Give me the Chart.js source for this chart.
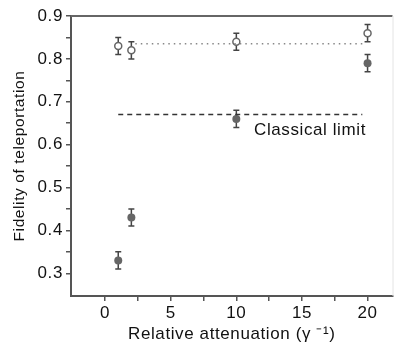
<!DOCTYPE html>
<html>
<head>
<meta charset="utf-8">
<script src="https://cdn.jsdelivr.net/npm/chart.js@4.4.1/dist/chart.umd.min.js"></script>
<style>
  html, body { margin: 0; padding: 0; background: #fff; }
  #wrap { width: 398px; height: 345px; position: relative; }
</style>
</head>
<body>
<div id="wrap"><canvas id="fidelityChart"></canvas></div>
<script>
// attenuation values (gamma^-1)
const attenuation = [1, 2, 10, 20];
// open circles (upper set) and filled circles (lower set)
const fidelityOpen = [0.83, 0.82, 0.84, 0.86];
const errorOpen = [0.02, 0.02, 0.02, 0.02];
const fidelityFilled = [0.33, 0.43, 0.66, 0.79];
const errorFilled = [0.02, 0.02, 0.02, 0.02];

// reference lines
const dottedLineX = [2.3, 19.6];
const dottedLineY = 0.835;
const classicalX = [1.0, 19.6];
const classicalLimit = 0.67;

const xTicks = [0, 2.5, 5, 7.5, 10, 12.5, 15, 17.5, 20];
const yTicks = [0.3, 0.35, 0.4, 0.45, 0.5, 0.55, 0.6, 0.65, 0.7, 0.75, 0.8, 0.85, 0.9];

const axisColor = "#555";
const family = "'Liberation Sans', Arial, sans-serif";
const tickFont = { family: family, size: 17 };

function toPoints(xs, ys) {
  return xs.map((x, i) => ({ x: x, y: ys[i] }));
}

// draws error bars under the markers, and the frame lines
const errorBars = {
  id: "errorBars",
  beforeLayout(chart) {
    chart.ctx.letterSpacing = "0.6px";
  },
  beforeDraw(chart) {
    chart.ctx.letterSpacing = "0.6px";
  },
  beforeDatasetsDraw(chart) {
    const ctx = chart.ctx;
    const xs = chart.scales.x;
    const ys = chart.scales.y;
    ctx.save();
    chart.data.datasets.forEach((ds) => {
      if (!ds.errors) return;
      ctx.strokeStyle = "#444";
      ctx.lineWidth = 1.5;
      ds.data.forEach((p, i) => {
        const px = xs.getPixelForValue(p.x);
        const top = ys.getPixelForValue(p.y + ds.errors[i]);
        const bot = ys.getPixelForValue(p.y - ds.errors[i]);
        ctx.beginPath();
        ctx.moveTo(px, top);
        ctx.lineTo(px, bot);
        ctx.moveTo(px - 3, top);
        ctx.lineTo(px + 3, top);
        ctx.moveTo(px - 3, bot);
        ctx.lineTo(px + 3, bot);
        ctx.stroke();
      });
    });
    ctx.restore();
  },
  afterDraw(chart) {
    const ctx = chart.ctx;
    const a = chart.chartArea;
    ctx.save();
    // top frame line
    ctx.strokeStyle = "#666";
    ctx.lineWidth = 2;
    ctx.beginPath();
    ctx.moveTo(a.left, a.top);
    ctx.lineTo(a.right, a.top);
    ctx.stroke();
    // faint right edge
    ctx.strokeStyle = "#e4e4e4";
    ctx.lineWidth = 1;
    ctx.beginPath();
    ctx.moveTo(a.right + 0.5, a.top);
    ctx.lineTo(a.right + 0.5, a.bottom);
    ctx.stroke();
    // label for the dashed line
    ctx.fillStyle = "#111";
    ctx.font = "17px " + family;
    ctx.textBaseline = "middle";
    ctx.fillText("Classical limit", 254, 130);
    ctx.restore();
  },
};

const majorTick = (v, step) => Math.abs(v / step - Math.round(v / step)) < 1e-6;

new Chart(document.getElementById("fidelityChart"), {
  type: "scatter",
  data: {
    datasets: [
      {
        label: "dotted",
        type: "line",
        data: toPoints(dottedLineX, [dottedLineY, dottedLineY]),
        borderColor: "#888",
        borderWidth: 1.5,
        borderDash: [1.5, 4],
        pointRadius: 0,
        fill: false,
      },
      {
        label: "classical",
        type: "line",
        data: toPoints(classicalX, [classicalLimit, classicalLimit]),
        borderColor: "#333",
        borderWidth: 1.5,
        borderDash: [5, 4],
        pointRadius: 0,
        fill: false,
      },
      {
        label: "open",
        data: toPoints(attenuation, fidelityOpen),
        errors: errorOpen,
        pointRadius: 3.5,
        pointBackgroundColor: "#fff",
        pointBorderColor: "#666",
        pointBorderWidth: 1.5,
      },
      {
        label: "filled",
        data: toPoints(attenuation, fidelityFilled),
        errors: errorFilled,
        pointRadius: 4,
        pointBackgroundColor: "#666",
        pointBorderColor: "#666",
        pointBorderWidth: 0,
      },
    ],
  },
  options: {
    responsive: true,
    maintainAspectRatio: false,
    animation: false,
    layout: { padding: { top: 16, right: 5, left: 0, bottom: 0 } },
    plugins: { legend: { display: false }, tooltip: { enabled: false } },
    scales: {
      x: {
        type: "linear",
        min: -2.6,
        max: 21.9,
        afterBuildTicks: (s) => { s.ticks = xTicks.map((v) => ({ value: v })); },
        afterFit: (s) => { s.height = 49; },
        border: { color: axisColor, width: 2 },
        grid: {
          drawOnChartArea: false,
          color: axisColor,
          lineWidth: 1.5,
          tickLength: 5,
        },
        ticks: {
          autoSkip: false,
          maxRotation: 0,
          color: "#111",
          font: tickFont,
          padding: 2,
          callback: (v) => (majorTick(v, 5) ? String(v) : ""),
        },
        title: {
          display: true,
          text: "Relative attenuation (γ ⁻¹)",
          color: "#111",
          font: { family: family, size: 17 },
          padding: { top: 0, bottom: 0 },
        },
      },
      y: {
        min: 0.247,
        max: 0.9,
        afterBuildTicks: (s) => { s.ticks = yTicks.map((v) => ({ value: v })); },
        afterFit: (s) => { s.width = 71; },
        border: { color: axisColor, width: 2 },
        grid: {
          drawOnChartArea: false,
          color: axisColor,
          lineWidth: 1.5,
          tickLength: 5,
        },
        ticks: {
          autoSkip: false,
          color: "#111",
          font: tickFont,
          padding: 3,
          callback: (v) => (majorTick(v, 0.1) ? v.toFixed(1) : ""),
        },
        title: {
          display: true,
          text: "Fidelity of teleportation",
          color: "#111",
          font: { family: family, size: 15.5 },
          padding: { top: 10, bottom: 0 },
        },
      },
    },
  },
  plugins: [errorBars],
});
</script>
</body>
</html>
